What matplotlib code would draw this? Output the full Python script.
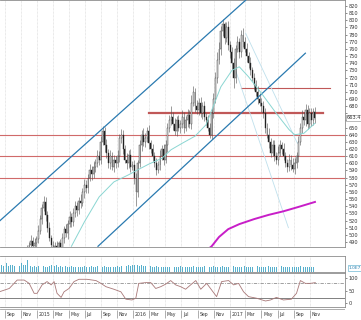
import datetime as dt

import matplotlib
matplotlib.use("Agg")
import matplotlib.dates as mdates
import matplotlib.pyplot as plt
import numpy as np

# weekly bars, week 0 = 2014-11-24
START = dt.date(2014, 11, 24)
first_open = 478
closes = [
    480, 486, 492, 484, 488, 494, 505, 522, 538, 546,
    528, 510, 496, 486, 480, 485, 478, 488, 482, 495,
    508, 502, 515, 525, 518, 530, 540, 535, 548, 545,
    560, 570, 565, 580, 590, 585, 595, 600, 610, 605,
    630, 645, 625, 615, 600, 610, 595, 605, 600, 610,
    635, 640, 620, 605, 600, 612, 595, 598, 580, 560,
    600, 625, 640, 630, 635, 645, 628, 620, 610, 600,
    590, 598, 610, 620, 605, 625, 650, 660, 665, 655,
    645, 660, 650, 655, 665, 650, 660, 668, 655, 685,
    700, 680, 675, 685, 670, 680, 665, 660, 650, 640,
    670, 690, 720, 745, 760, 785, 795, 775, 790, 765,
    755, 740, 720, 760, 770, 755, 780, 770, 760, 750,
    740, 730, 720, 710, 700, 690, 685, 680, 670, 650,
    640, 630, 615, 625, 610, 605, 615, 625, 620, 610,
    600, 595, 605, 598, 592, 600, 610, 630, 650, 665,
    660, 675, 655, 670, 660, 672, 663,
]
wick_up = [
    6, 4, 8, 5, 7, 4, 9, 6, 5, 9,
    7, 5, 8, 4, 6, 5, 7, 4, 6, 8,
    5, 7, 6, 9, 5, 7, 8, 6, 5, 9,
    6, 8, 7, 5, 9, 6, 8, 6, 9, 7,
    8, 7, 6, 9, 5, 8, 6, 7, 5, 8,
    6, 8, 7, 5, 9, 6, 8, 5, 6, 7,
    5, 8, 6, 9, 7, 6, 8, 5, 7, 6,
    8, 5, 9, 6, 7, 8, 6, 8, 15, 7,
    9, 6, 8, 5, 9, 7, 6, 8, 7, 10,
    8, 6, 9, 7, 8, 6, 7, 5, 8, 6,
    7, 9, 8, 10, 9, 7, 7, 3, 8, 9,
    6, 8, 7, 6, 8, 5, 6, 9, 7, 8,
    6, 8, 5, 7, 6, 8, 9, 6, 7, 8,
    6, 9, 5, 7, 8, 6, 9, 7, 5, 8,
    6, 6, 8, 7, 9, 7, 6, 8, 6, 9,
    7, 8, 6, 7, 8, 6, 7,
]
wick_dn = [
    5, 7, 4, 6, 8, 5, 6, 4, 7, 5,
    8, 6, 5, 7, 4, 6, 8, 5, 7, 6,
    6, 5, 8, 4, 7, 6, 5, 8, 6, 7,
    5, 8, 6, 7, 5, 9, 6, 7, 5, 8,
    6, 5, 9, 7, 6, 8, 5, 7, 6, 5,
    8, 6, 7, 5, 8, 6, 7, 5, 9, 20,
    7, 5, 8, 6, 7, 5, 8, 6, 7, 5,
    6, 4, 8, 6, 7, 5, 9, 6, 7, 8,
    6, 7, 5, 8, 6, 7, 5, 9, 6, 7,
    5, 8, 6, 7, 5, 8, 6, 7, 5, 4,
    6, 7, 5, 8, 6, 9, 7, 8, 6, 7,
    8, 8, 15, 7, 5, 8, 6, 7, 5, 8,
    6, 7, 5, 8, 6, 7, 5, 8, 6, 7,
    5, 8, 6, 5, 7, 6, 8, 5, 7, 6,
    5, 7, 6, 8, 4, 7, 6, 8, 5, 7,
    6, 8, 7, 5, 8, 6, 7,
]

vol_first_week = -15
volume = [
    4, 5, 4, 5, 6, 4, 5, 5, 4, 6,
    5, 4, 6, 5, 5, 8, 6, 4, 3, 4,
    3, 4, 3, 5, 4, 3, 3, 4, 5, 5,
    4, 5, 3, 4, 3, 3, 4, 3, 3, 4,
    3, 3, 4, 3, 3, 3, 4, 3, 3, 3,
    4, 3, 3, 4, 3, 3, 3, 4, 3, 3,
    3, 4, 3, 3, 4, 3, 4, 4, 5, 4,
    5, 4, 5, 5, 6, 5, 4, 5, 4, 4,
    5, 4, 4, 3, 3, 4, 3, 3, 3, 3,
    3, 3, 3, 4, 3, 3, 3, 3, 4, 3,
    3, 3, 3, 3, 3, 4, 3, 3, 3, 3,
    3, 4, 3, 3, 3, 3, 4, 3, 3, 4,
    3, 4, 3, 3, 3, 3, 3, 4, 3, 3,
    3, 3, 3, 4, 3, 3, 3, 3, 3, 3,
    4, 3, 3, 3, 3, 3, 4, 3, 3, 3,
    3, 3, 3, 4, 3, 3, 3, 3, 3, 3,
    3, 3, 3, 4, 3, 3, 3, 3, 3, 3, 3, 3,
]

ma_weeks = [24, 31, 39, 47, 55, 60, 66, 73, 78, 84, 91, 97,
            100, 105, 111, 115, 120, 127, 135, 142, 145, 150, 156]
ma_vals = [484, 518, 553, 574, 584, 591, 599, 607, 619, 628, 638, 654,
           674, 707, 730, 735, 721, 698, 670, 647, 640, 642, 656]

ma_long_weeks = [97, 100, 104, 109, 115, 123, 131, 139, 147, 156]
ma_long_vals = [478, 484, 497, 508, 515, 522, 528, 533, 539, 546]

osc_weeks = [-15.1, -9.7, -5.4, -1.6, 1.1, 3.8, 5.4, 8.1, 10.8, 13,
             14.6, 16.2, 18.4, 20, 22.7, 25.4, 28.1, 32.4, 37.3, 40,
             42.7, 47, 50.8, 53.5, 56.8, 58.9, 60.5, 64.3, 67, 69.7,
             72.4, 75.1, 77.8, 80.5, 83.2, 85.9, 88.6, 91.4, 94.1, 97.3,
             100, 102.7, 105.4, 109.2, 111.9, 114.6, 117.3, 120, 124.3, 129.2,
             131.9, 135.1, 138.9, 143.2, 146, 148.1, 150.8, 153.5, 156.2]
osc_vals = [45, 58, 91, 91, 78, 39, 39, 72, 85, 72,
            85, 39, 23, 45, 58, 85, 94, 94, 89, 78,
            65, 55, 45, 16, 13, 20, 78, 81, 81, 58,
            65, 75, 89, 72, 65, 55, 72, 89, 55, 78,
            52, 26, 85, 89, 72, 78, 45, 26, 20, 9,
            13, 23, 13, 16, 39, 89, 78, 78, 81]

# drawn trendlines: (weeks, prices)
channel_lines = [([-15.1, 118.4], [519, 828]), ([38.4, 150.8], [484, 754])]
fan_lines = [([118.4, 146.5], [782, 628]), ([113, 141.6], [730, 510])]
# horizontal levels: price, first week, last week (None = full width), width
levels = [(705, 116, 164.3, 0.8), (670, 66, 160.5, 1.6),
          (640, None, None, 0.8), (610, None, None, 0.8), (580, None, None, 0.8)]

last_price = 663.4
hidden_price_ticks = [660, 670]  # covered by the last-price box
vol_label = "1.0E7"

tick_months = [(2014, 9), (2014, 11), (2015, 1), (2015, 3), (2015, 5), (2015, 7),
               (2015, 9), (2015, 11), (2016, 1), (2016, 3), (2016, 5), (2016, 7),
               (2016, 9), (2016, 11), (2017, 1), (2017, 3), (2017, 5), (2017, 7),
               (2017, 9), (2017, 11)]

GRID = "#d4d4d4"
FRAME = "#8c8c8c"
RED = "#d06a6a"
FS = 3.6


def wk(w):
    return mdates.date2num(START) + 7 * np.asarray(w, dtype=float)


def style_axis(ax, xlim):
    ax.set_xlim(*xlim)
    ax.set_xticks([])
    for s in ax.spines.values():
        s.set_color(FRAME)
        s.set_linewidth(0.6)
    ax.spines["left"].set_visible(False)
    ax.yaxis.tick_right()
    ax.tick_params(axis="y", length=1.5, width=0.4, pad=1, labelsize=FS,
                   colors="#333333")
    for y, m in tick_months:
        ax.axvline(mdates.date2num(dt.date(y, m, 1)), color=GRID, lw=0.5,
                   ls=(0, (1, 1)), zorder=0)


def main():
    fig = plt.figure(figsize=(3.61, 3.20), dpi=100)
    W = 345 / 361
    ax = fig.add_axes([0, 0.229, W, 0.771])
    axv = fig.add_axes([0, 0.151, W, 0.049])
    axo = fig.add_axes([0, 0.0416, W, 0.104])
    axs = fig.add_axes([0, 0.004, W, 0.03])
    xlim = (mdates.date2num(dt.date(2014, 8, 13)), mdates.date2num(dt.date(2018, 3, 14)))

    # price panel
    style_axis(ax, xlim)
    ax.set_ylim(483.4, 828.4)
    pticks = np.arange(490, 821, 10)
    ax.set_yticks(pticks)
    ax.set_yticklabels(["" if t in hidden_price_ticks else str(t) for t in pticks])
    opens = [first_open] + closes[:-1]
    x = wk(range(len(closes)))
    for xi, o, c, wu, wd in zip(x, opens, closes, wick_up, wick_dn):
        hi = max(o, c) + wu
        lo = min(o, c) - wd
        ax.vlines(xi, lo, hi, color="#505050", lw=0.4, zorder=3)
        up = c >= o
        ax.bar(xi, max(abs(c - o), 1.5), bottom=min(o, c), width=3.5,
               color="white" if up else "#181818", edgecolor="#303030",
               lw=0.3, zorder=4)

    for p, w0, w1, lw in levels:
        if w0 is None:
            ax.axhline(p, color=RED, lw=lw, zorder=2)
        else:
            ax.plot(wk([w0, w1]), [p, p], color="#c05858", lw=lw, zorder=2)

    for ws, ps in channel_lines:
        ax.plot(wk(ws), ps, color="#2a7ab0", lw=0.9, zorder=5)
    for ws, ps in fan_lines:
        ax.plot(wk(ws), ps, color="#bfe0ec", lw=0.6, zorder=2)
    ax.plot(wk(ma_weeks), ma_vals, color="#8ad6d2", lw=0.7, zorder=5)
    ax.plot(wk(ma_long_weeks), ma_long_vals, color="#c81ec8", lw=1.4, zorder=5)

    ax.text(1.005, last_price, f"{last_price:.1f}", transform=ax.get_yaxis_transform(),
            fontsize=FS, va="center", ha="left", color="#333333",
            bbox=dict(boxstyle="square,pad=0.15", fc="white", ec="#888888", lw=0.4),
            clip_on=False, zorder=10)

    # volume panel
    style_axis(axv, xlim)
    axv.set_ylim(0, 11)
    axv.set_yticks([])
    vx = wk(np.arange(len(volume)) + vol_first_week)
    axv.bar(vx, volume, width=3.0, color="#58b0cc", lw=0)
    axv.text(1.01, 2.5, vol_label, transform=axv.get_yaxis_transform(),
             fontsize=FS - 0.4, va="center", ha="left", color="#2a80b0",
             bbox=dict(boxstyle="square,pad=0.15", fc="white", ec="#4aa6c8", lw=0.4),
             clip_on=False)

    # oscillator panel
    style_axis(axo, xlim)
    axo.set_ylim(-13.3, 117)
    axo.set_yticks([0, 50, 100])
    axo.axhline(80, color="#909090", lw=0.6, ls=(0, (4, 1.5, 1, 1.5)))
    axo.axhline(20, color="#808080", lw=0.7)
    axo.plot(wk(osc_weeks), osc_vals, color="#a87878", lw=0.6)

    # date strip
    axs.set_xlim(*xlim)
    axs.set_ylim(0, 1)
    axs.set_xticks([])
    axs.set_yticks([])
    for s in axs.spines.values():
        s.set_visible(False)
    axs.axhline(1, color="#a0a0a0", lw=0.6)
    axs.axhline(0, color="#d0d0d0", lw=0.6)
    for y, m in tick_months:
        d = mdates.date2num(dt.date(y, m, 1))
        axs.vlines(d, 0.1, 0.9, color="#707070", lw=0.4)
        lab = str(y) if m == 1 else dt.date(y, m, 1).strftime("%b")
        axs.text(d + 6, 0.45, lab, fontsize=FS - 0.3, va="center", ha="left",
                 color="#333333")

    fig.savefig("out.png", dpi=100)
    plt.close(fig)


if __name__ == "__main__":
    main()
